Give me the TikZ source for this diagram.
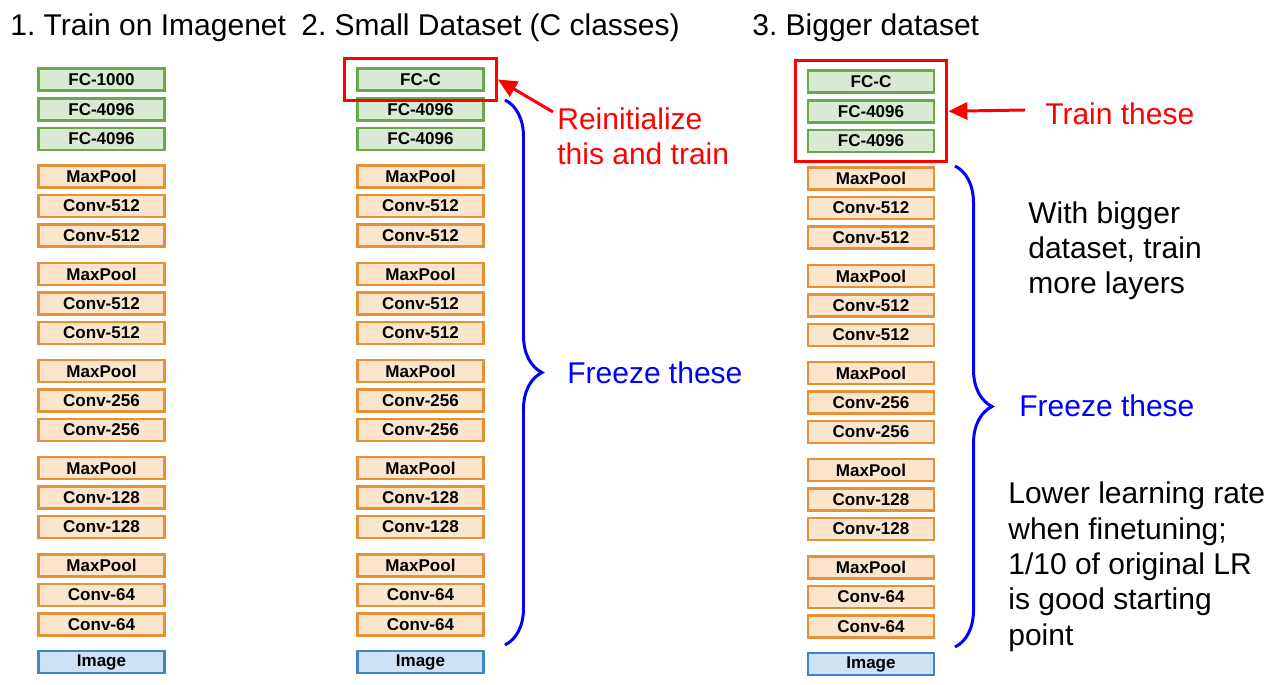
\documentclass[tikz,border=0pt]{standalone}
\usepackage{fontspec}
\setmainfont{Liberation Sans}
\frenchspacing
\usetikzlibrary{arrows.meta, fit, decorations.pathreplacing}
\definecolor{fcfill}{HTML}{D9EAD3}
\definecolor{fcline}{HTML}{6AA84F}
\definecolor{convfill}{HTML}{FCE5CD}
\definecolor{convline}{HTML}{E69138}
\definecolor{imgfill}{HTML}{CFE2F3}
\definecolor{imgline}{HTML}{3D85C6}
\definecolor{trainred}{HTML}{FF0000}
\definecolor{frzblue}{HTML}{0000FF}

\begin{document}
\begin{tikzpicture}[
    x=0.02cm, y=-0.02cm,
    every node/.style={font=\fontsize{17.07}{20.1}\selectfont},
    layer/.style={draw, line width=1.6pt, minimum width=2.52cm, minimum height=0.44cm,
        inner sep=0pt, font=\fontsize{9.7}{11}\selectfont\bfseries},
    fc/.style={layer, draw=fcline, fill=fcfill},
    conv/.style={layer, draw=convline, fill=convfill},
    img/.style={layer, draw=imgline, fill=imgfill},
    redbox/.style={draw=trainred, line width=1.7pt, inner xsep=0.23cm, inner ysep=0.17cm},
    ttl/.style={anchor=base west, inner sep=0pt},
    hint/.style={anchor=base west, inner sep=0pt, align=left, text=trainred},
    frz/.style={anchor=base west, inner sep=0pt, text=frzblue},
    note/.style={anchor=base west, inner sep=0pt, align=left},
    brc/.style={frzblue, line width=1.7pt, decorate, decoration={brace, amplitude=0.74cm}},
    pointer/.style={trainred, line width=1.7pt, -{Triangle[length=0.38cm, width=0.34cm]}},
]
\useasboundingbox (0,0) rectangle (1274,685);

% titles
\node[ttl] (t1) at (10,36) {1. Train on Imagenet};
\node[ttl] (t2) at (301,36) {2. Small Dataset (C classes)};
\node[ttl] (t3) at (752,36) {3. Bigger dataset};

% ---------------- the three stacks of layers
\foreach \c/\x/\dy/\top in {a/101.5/0/FC-1000, b/420.5/0/FC-C, c/871/2/FC-C}{
    \node[fc] (\c1) at (\x, {79.5+\dy}) {\top};
    \foreach \i/\lab/\y/\kind in {2/FC-4096/109.5/fc, 3/FC-4096/139/fc,
        4/MaxPool/176.5/conv, 5/Conv-512/206/conv, 6/Conv-512/235.5/conv,
        7/MaxPool/274/conv, 8/Conv-512/303.5/conv, 9/Conv-512/333/conv,
        10/MaxPool/371/conv, 11/Conv-256/400.5/conv, 12/Conv-256/430/conv,
        13/MaxPool/468/conv, 14/Conv-128/497.5/conv, 15/Conv-128/527/conv,
        16/MaxPool/565.5/conv, 17/Conv-64/595/conv, 18/Conv-64/624.5/conv,
        19/Image/662/img}{
        \node[\kind] (\c\i) at (\x, {\y+\dy}) {\lab};
    }
}

% ---------------- small dataset
\node[redbox, fit=(b1)] (sel2) {};
\node[hint] (reinit) at (557,165) {Reinitialize\\this and train};
\coordinate (from2) at (553,112);
\draw[pointer] (from2) -- (sel2.east);
\coordinate (top2) at (505,100);
\coordinate (bot2) at (505,645);
\draw[brc] (top2) -- (bot2);
\node[frz] (frz2) at (567,384) {Freeze these};

% ---------------- bigger dataset
\node[redbox, fit=(c1) (c3)] (sel3) {};
\node[hint] (trainlab) at (1045,125) {Train these};
\coordinate (from3) at (1025,110);
\draw[pointer] (from3) -- (sel3.east);
\coordinate (top3) at (955,166);
\coordinate (bot3) at (955,647);
\draw[brc] (top3) -- (bot3);
\node[frz] (frz3) at (1019,417) {Freeze these};
\node[note] (more) at (1028,294) {With bigger\\dataset, train\\more layers};
\node[note] (lower) at (1008,645) {Lower learning rate\\when finetuning;\\1/10 of original LR\\is good starting\\point};
\end{tikzpicture}
\end{document}
